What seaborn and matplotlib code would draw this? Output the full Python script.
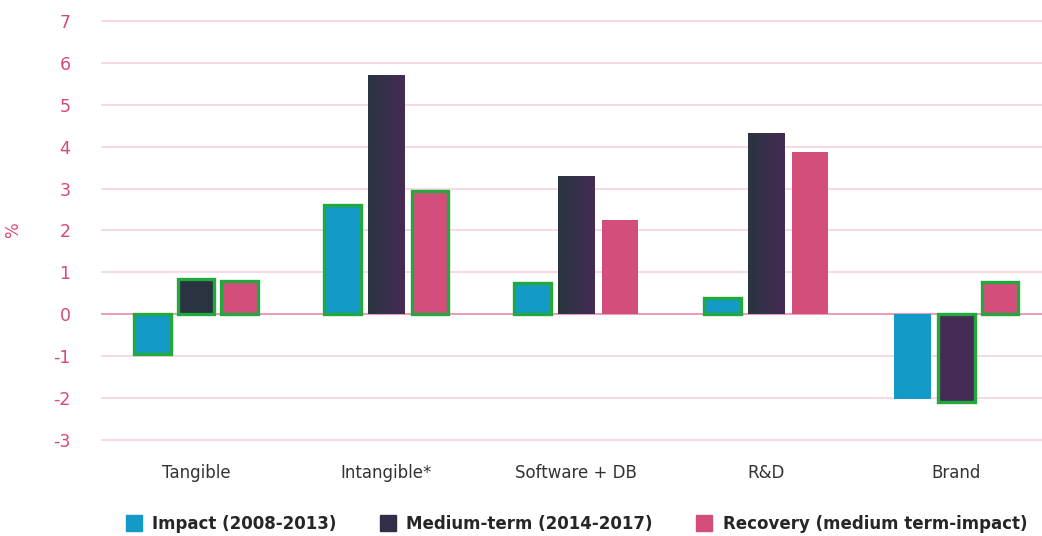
import numpy as np
import pandas as pd
import matplotlib
matplotlib.use("Agg")
import matplotlib.pyplot as plt
from matplotlib.colors import LinearSegmentedColormap
from matplotlib.lines import Line2D
import seaborn as sns


# ============================================================
# DATA
# ============================================================

CATEGORIES = ["Tangible", "Intangible*", "Software + DB", "R&D", "Brand"]
SERIES = ["Impact (2008-2013)", "Medium-term (2014-2017)", "Recovery (medium term-impact)"]

impact   = [-0.95, 2.60, 0.74, 0.38, -2.03]
medium   = [0.84, 5.71, 3.31, 4.33, -2.10]
recovery = [0.80, 2.93, 2.24, 3.88, 0.76]

# bars outlined in green (significant)
sig_impact   = [True, True, True, True, False]
sig_medium   = [True, False, False, False, True]
sig_recovery = [True, True, False, False, True]

Y_TICKS = list(range(-3, 8))


# ============================================================
# STYLE
# ============================================================

C_IMPACT = "#139ac7"
C_MED_L = "#2a3441"
C_MED_R = "#452b55"
C_RECOV = "#d44e7c"
C_EDGE = "#22a83c"
C_PINK = "#d9487d"
C_GRID = "#f7d3df"
C_ZERO = "#ea8aac"

df = pd.DataFrame({
    "cat": CATEGORIES * 3,
    "series": np.repeat(SERIES, len(CATEGORIES)),
    "value": impact + medium + recovery,
})
sig = sig_impact + sig_medium + sig_recovery

sns.set_theme(style="white")
plt.rcParams["font.family"] = ["DejaVu Sans"]

fig = plt.figure(figsize=(10.42, 5.36), dpi=100)
ax = fig.add_axes([0.097, 0.175, 0.912, 0.79])

sns.barplot(data=df, x="cat", y="value", hue="series",
            palette=[C_IMPACT, C_MED_L, C_RECOV], saturation=1,
            width=0.69, gap=0.16, legend=False, ax=ax, zorder=3,
            linewidth=0)

# outlines + gradient on medium-term bars
cmap = LinearSegmentedColormap.from_list("med", [C_MED_L, C_MED_R])
grad = np.linspace(0, 1, 64).reshape(1, -1)
k = 0
for ci, cont in enumerate(ax.containers):
    for j, bar in enumerate(cont):
        if sig[k]:
            bar.set_edgecolor(C_EDGE)
            bar.set_linewidth(2.4)
        if ci == 1:
            x0, w = bar.get_x(), bar.get_width()
            y0, h = bar.get_y(), bar.get_height()
            if j == 0:
                g = np.zeros_like(grad)
            elif j == len(cont) - 1:
                g = np.ones_like(grad)
            else:
                g = grad
            im = ax.imshow(g, cmap=cmap, vmin=0, vmax=1, aspect="auto",
                           extent=[x0, x0 + w, min(y0, y0 + h), max(y0, y0 + h)],
                           zorder=3, interpolation="bilinear")
            im.set_clip_path(bar)
            bar.set_facecolor("none")
            bar.set_zorder(4)
        k += 1

ax.set_xlim(-0.5, 4.5)
ax.set_ylim(-3.05, 7.05)
ax.set_yticks(Y_TICKS)
ax.set_yticklabels([str(t) for t in Y_TICKS])
for t in Y_TICKS:
    ax.axhline(t, color=C_ZERO if t == 0 else C_GRID, lw=1.2, zorder=1)

ax.tick_params(axis="y", length=0, pad=22, labelsize=12.5, labelcolor=C_PINK)
ax.tick_params(axis="x", length=0, pad=16, labelsize=12, labelcolor="#333333")
for s in ax.spines.values():
    s.set_visible(False)
ax.set_xlabel("")
ax.set_ylabel("%", color=C_PINK, fontsize=12, labelpad=22)

handles = [Line2D([], [], marker="s", ls="", markersize=11, color=c)
           for c in [C_IMPACT, "#302f47", C_RECOV]]
fig.legend(handles, SERIES, loc="lower center", bbox_to_anchor=(0.553, -0.022),
           ncol=3, frameon=False, handletextpad=0.6, columnspacing=2.6,
           prop={"weight": "bold", "size": 12}, handlelength=1.0)

fig.savefig("out.png", dpi=100)
